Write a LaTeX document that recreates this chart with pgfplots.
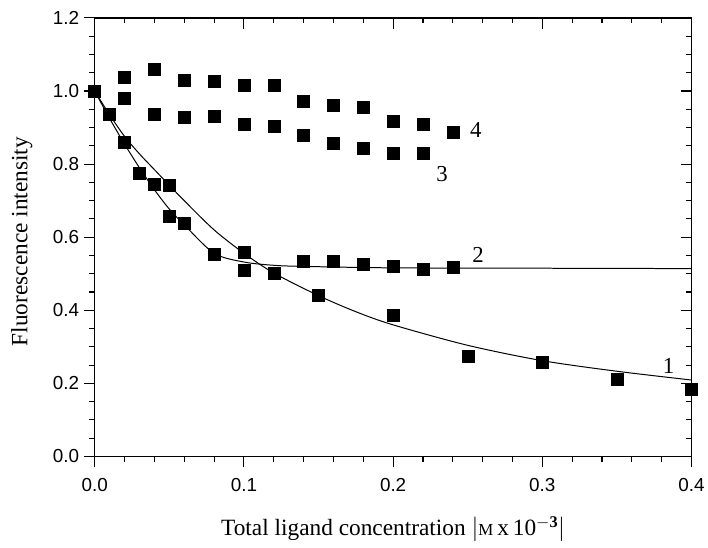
\documentclass[border=0pt]{standalone}
\usepackage{fontspec}
\setmainfont{Liberation Serif}
\newfontfamily\ticksf{Liberation Sans}
\usepackage{pgfplots}
\pgfplotsset{compat=1.18}
\begin{document}
\begin{tikzpicture}
\pgfplotsset{common/.style={scale only axis, width=599bp, height=440bp,
  xmin=0, xmax=0.4, ymin=0, ymax=1.2,
  xtick={0,0.1,0.2,0.3,0.4}, ytick={0,0.2,0.4,0.6,0.8,1.0,1.2},
  minor x tick num=4, minor y tick num=3,
  major tick length=11bp, minor tick length=5.5bp,
  every tick/.style={black, line width=1.1bp},
  axis line style={line width=1.3bp},
  /pgf/number format/fixed, /pgf/number format/fixed zerofill,
  /pgf/number format/precision=1, /pgf/number format/assume math mode=true}}
\begin{axis}[common, xtick pos=bottom, ytick pos=left, tick align=outside,
  clip=false,
  ticklabel style={font=\ticksf\fontsize{19}{19}\selectfont},
  xticklabel style={yshift=-7bp},
  yticklabel style={xshift=-1bp},
  label style={font=\fontsize{23.5}{26}\selectfont},
  xlabel={Total ligand concentration $|${\fontsize{17}{17}\selectfont M}\,x\,10$^{\mathbf{-3}}|$},
  ylabel={Fluorescence intensity},
  xlabel style={at={(axis description cs:0.5,-0.166)}, anchor=center},
  ylabel style={at={(axis description cs:-0.122,0.49)}, anchor=center}]
% fitted curves
\addplot[black, line width=1bp, smooth, tension=0.5] coordinates {
(0,1.0) (0.01,0.935) (0.02,0.876) (0.03,0.828) (0.04,0.785) (0.05,0.742) (0.06,0.700)
(0.08,0.620) (0.10,0.556) (0.12,0.502) (0.15,0.440) (0.175,0.396) (0.20,0.360)
(0.25,0.304) (0.30,0.262) (0.35,0.233) (0.40,0.209)};
\addplot[black, line width=1bp, smooth, tension=0.5] coordinates {
(0,1.0) (0.01,0.925) (0.02,0.855) (0.03,0.790) (0.04,0.730) (0.05,0.677) (0.06,0.634)
(0.08,0.556) (0.10,0.532) (0.12,0.523) (0.14,0.520) (0.20,0.516) (0.30,0.515) (0.40,0.514)};
% series 1
\addplot[only marks, mark=square*, mark size=6bp, black] coordinates {
(0,1.0) (0.01,0.937) (0.02,0.860) (0.05,0.742) (0.10,0.559) (0.12,0.501) (0.15,0.442)
(0.20,0.387) (0.25,0.273) (0.30,0.257) (0.35,0.212) (0.40,0.184)};
% series 2
\addplot[only marks, mark=square*, mark size=6bp, black] coordinates {
(0.03,0.775) (0.04,0.745) (0.05,0.657) (0.06,0.638) (0.08,0.553) (0.10,0.510)
(0.14,0.535) (0.16,0.535) (0.18,0.526) (0.20,0.520) (0.22,0.513) (0.24,0.517)};
% series 3
\addplot[only marks, mark=square*, mark size=6bp, black] coordinates {
(0,1.0) (0.02,0.981) (0.04,0.937) (0.06,0.928) (0.08,0.932) (0.10,0.908) (0.12,0.903)
(0.14,0.880) (0.16,0.858) (0.18,0.844) (0.20,0.829) (0.22,0.830)};
% series 4
\addplot[only marks, mark=square*, mark size=6bp, black] coordinates {
(0,1.0) (0.02,1.037) (0.04,1.060) (0.06,1.029) (0.08,1.027) (0.10,1.015) (0.12,1.017)
(0.14,0.972) (0.16,0.961) (0.18,0.956) (0.20,0.918) (0.22,0.910) (0.24,0.887)};
\node[font=\fontsize{23}{26}\selectfont] at (axis cs:0.2555,0.893) {4};
\node[font=\fontsize{23}{26}\selectfont] at (axis cs:0.2328,0.773) {3};
\node[font=\fontsize{23}{26}\selectfont] at (axis cs:0.257,0.551) {2};
\node[font=\fontsize{23}{26}\selectfont] at (axis cs:0.3846,0.248) {1};
\end{axis}
\begin{axis}[common, xtick pos=top, ytick pos=right, tick align=inside,
  xticklabels={}, yticklabels={}]
\end{axis}
\path (current axis.south west) ++(-95bp,-91bp) coordinate (bbA);
\path (current axis.north east) ++(14bp,18bp) coordinate (bbB);
\path (bbA) rectangle (bbB);
\end{tikzpicture}
\end{document}
